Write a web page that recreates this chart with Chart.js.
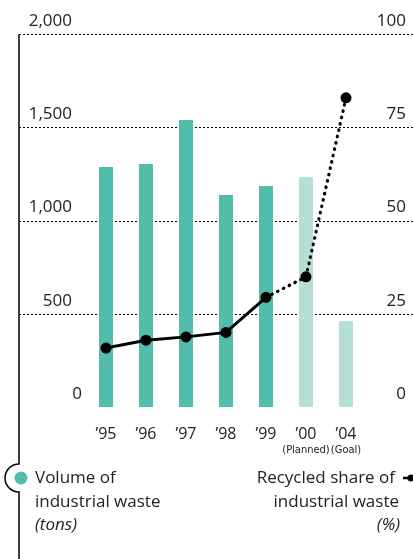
<!DOCTYPE html>
<html>
<head>
<meta charset="utf-8">
<script src="https://cdn.jsdelivr.net/npm/chart.js@4/dist/chart.umd.min.js"></script>
<style>
  html, body { margin: 0; padding: 0; background: #fff; }
  #wrap { width: 413px; height: 559px; position: relative; }
</style>
</head>
<body>
<div id="wrap"><canvas id="wasteChart"></canvas></div>
<script>
// Chart data
const years = ['\u201995', '\u201996', '\u201997', '\u201998', '\u201999', '\u201900', '\u201904'];
const yearNotes = ['', '', '', '', '', '(Planned)', '(Goal)'];
const wasteTons = [1287, 1303, 1539, 1137, 1185, 1233, 461];
const recycledShare = [15.8, 17.9, 18.8, 20.0, 29.4, 34.9, 82.9];
const leftTicks = [0, 500, 1000, 1500, 2000];
const rightTicks = [0, 25, 50, 75, 100];
const leftTickLabels = ['0', '500', '1,000', '1,500', '2,000'];

const TEAL = '#52bdaa';
const TEAL_LIGHT = '#b5dfd6';
const TEAL_EDGE = '#6ccab8';
const FONT = '"Open Sans", "Noto Sans", sans-serif';

// Draws the dotted grid, tick texts, axis line and the custom legend
const decorPlugin = {
    id: 'decor',
    beforeDatasetsDraw(chart) {
        const ctx = chart.ctx;
        const yL = chart.scales.y;
        const W = chart.width;
        ctx.save();
        ctx.strokeStyle = '#000';
        ctx.lineWidth = 1;
        ctx.setLineDash([2, 2]);
        leftTicks.forEach(v => {
            if (v === 0) return;
            const py = Math.round(yL.getPixelForValue(v)) + 0.5;
            ctx.beginPath();
            ctx.moveTo(19, py);
            ctx.lineTo(W, py);
            ctx.stroke();
        });
        ctx.restore();
    },
    afterDatasetsDraw(chart) {
        const ctx = chart.ctx;
        const x = chart.scales.x;
        const yL = chart.scales.y;
        const yR = chart.scales.y1;

        // dotted outlines on the planned/goal bars
        const meta = chart.getDatasetMeta(0);
        ctx.save();
        ctx.strokeStyle = TEAL_EDGE;
        ctx.lineWidth = 1;
        ctx.setLineDash([1.5, 1.5]);
        [5, 6].forEach(i => {
            const bar = meta.data[i];
            const left = bar.x - bar.width / 2;
            ctx.strokeRect(left + 0.5, bar.y + 0.5, bar.width - 1, bar.base - bar.y - 1);
        });
        ctx.restore();

        // redraw the line on top of the outlines
        ctx.save();
        ctx.fillStyle = '#222';
        ctx.font = '17px ' + FONT;
        ctx.textBaseline = 'middle';
        // left tick labels
        leftTicks.forEach((v, i) => {
            const py = yL.getPixelForValue(v) - 13;
            ctx.textAlign = 'right';
            ctx.fillText(leftTickLabels[i], v === 0 ? 82 : 72, py);
        });
        // right tick labels
        rightTicks.forEach(v => {
            const py = yR.getPixelForValue(v) - 13;
            ctx.textAlign = 'right';
            ctx.fillText(String(v), 406, py);
        });
        // x labels
        ctx.font = '16px ' + FONT;
        ctx.textAlign = 'center';
        years.forEach((lab, i) => {
            ctx.fillText(lab, x.getPixelForValue(i), 434);
        });
        ctx.font = '11px "Liberation Sans Narrow", "DejaVu Sans Condensed", sans-serif';
        yearNotes.forEach((lab, i) => {
            if (lab) ctx.fillText(lab, x.getPixelForValue(i), 450);
        });

        // vertical axis line with a bump around the legend dot
        ctx.strokeStyle = '#000';
        ctx.lineWidth = 1.5;
        ctx.beginPath();
        ctx.moveTo(19, 34);
        ctx.lineTo(19, 464);
        ctx.arc(19, 478, 14, -Math.PI / 2, Math.PI / 2, true);
        ctx.lineTo(19, 559);
        ctx.stroke();

        // legend dot (bars)
        ctx.fillStyle = TEAL;
        ctx.beginPath();
        ctx.arc(21, 478, 6.5, 0, Math.PI * 2);
        ctx.fill();

        // legend marker (line)
        ctx.strokeStyle = '#000';
        ctx.lineWidth = 2.5;
        ctx.beginPath();
        ctx.moveTo(403, 478);
        ctx.lineTo(413, 478);
        ctx.stroke();
        ctx.fillStyle = '#000';
        ctx.beginPath();
        ctx.arc(411, 478, 3.5, 0, Math.PI * 2);
        ctx.fill();

        // legend texts
        ctx.fillStyle = '#222';
        ctx.font = '17px ' + FONT;
        ctx.textAlign = 'left';
        ctx.fillText('Volume of', 35, 478);
        ctx.fillText('industrial waste', 35, 502);
        ctx.font = 'italic 17px ' + FONT;
        ctx.fillText('(tons)', 35, 525);
        ctx.font = '17px ' + FONT;
        ctx.textAlign = 'right';
        ctx.fillText('Recycled share of', 395, 478);
        ctx.fillText('industrial waste', 399, 502);
        ctx.font = 'italic 17px ' + FONT;
        ctx.fillText('(%)', 400, 525);
        ctx.restore();
    }
};

const data = {
    labels: years,
    datasets: [
        {
            type: 'line',
            label: 'Recycled share of industrial waste (%)',
            data: recycledShare,
            yAxisID: 'y1',
            borderColor: '#000',
            borderWidth: 3,
            borderCapStyle: 'round',
            pointBackgroundColor: '#000',
            pointBorderColor: '#000',
            pointRadius: 4,
            tension: 0,
            order: 0,
            segment: {
                borderDash: c => c.p0DataIndex >= 4 ? [0.5, 6] : undefined,
                borderWidth: c => c.p0DataIndex >= 4 ? 3.2 : 3
            }
        },
        {
            type: 'bar',
            label: 'Volume of industrial waste (tons)',
            data: wasteTons,
            yAxisID: 'y',
            backgroundColor: wasteTons.map((v, i) => i >= 5 ? TEAL_LIGHT : TEAL),
            borderWidth: 0,
            categoryPercentage: 1,
            barPercentage: 0.35,
            order: 1
        }
    ]
};

const config = {
    data: data,
    options: {
        responsive: true,
        maintainAspectRatio: false,
        animation: false,
        layout: { padding: { left: 86, right: 47, top: 34, bottom: 152 } },
        scales: {
            x: { display: false, offset: true },
            y: { display: false, min: 0, max: 2000 },
            y1: { display: false, min: 0, max: 100, position: 'right' }
        },
        plugins: {
            legend: { display: false },
            tooltip: { enabled: false }
        }
    },
    plugins: [decorPlugin]
};

const ctx = document.getElementById('wasteChart').getContext('2d');
new Chart(ctx, config);
</script>
</body>
</html>
